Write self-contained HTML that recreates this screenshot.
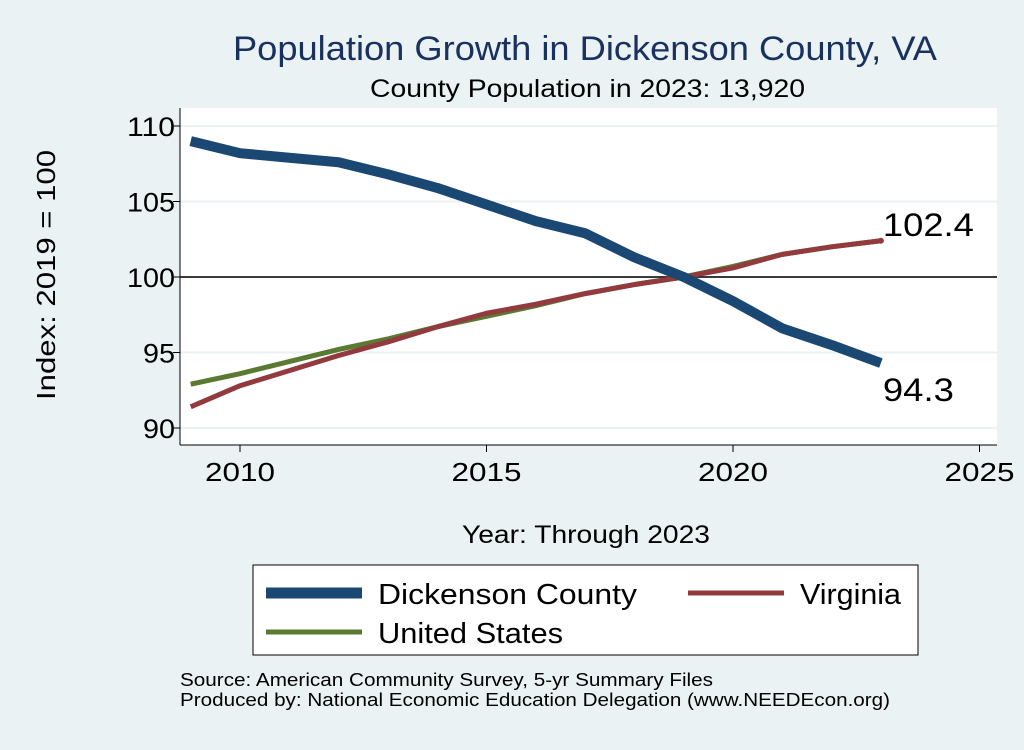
<!DOCTYPE html>
<html><head><meta charset="utf-8"><style>
body{margin:0;background:#eaf2f3;font-family:"Liberation Sans",sans-serif}
svg text{font-family:"Liberation Sans",sans-serif}
</style></head><body>
<svg width="1024" height="745" viewBox="0 0 1024 745">
<rect width="1024" height="745" fill="#eaf2f3"/>
<text x="233" y="60" font-size="34" fill="#1a3160" textLength="704" lengthAdjust="spacingAndGlyphs">Population Growth in Dickenson County, VA</text>
<text x="370" y="97" font-size="25" fill="#000" textLength="435" lengthAdjust="spacingAndGlyphs">County Population in 2023: 13,920</text>
<rect x="180" y="108" width="817" height="337" fill="#fff"/>
<g id="grid"></g><g id="axes"></g><g id="series"></g>
<text x="55" y="275" font-size="26" text-anchor="middle" textLength="250" lengthAdjust="spacingAndGlyphs" transform="rotate(-90 55 275)">Index: 2019 = 100</text>
<text x="462" y="543" font-size="25" textLength="248" lengthAdjust="spacingAndGlyphs">Year: Through 2023</text>
<g>
<rect x="253" y="565" width="665" height="90" fill="#fff" stroke="#000" stroke-width="1"/>
<line x1="266" y1="593" x2="362" y2="593" stroke="#1a4872" stroke-width="11"/>
<text x="378" y="604" font-size="29" textLength="259" lengthAdjust="spacingAndGlyphs">Dickenson  County</text>
<line x1="688" y1="593" x2="784" y2="593" stroke="#933a3f" stroke-width="5"/>
<text x="800" y="604" font-size="29" textLength="101" lengthAdjust="spacingAndGlyphs">Virginia</text>
<line x1="266" y1="632" x2="362" y2="632" stroke="#597a30" stroke-width="5"/>
<text x="378" y="643" font-size="29" textLength="185" lengthAdjust="spacingAndGlyphs">United States</text>
</g>
<text x="180" y="686" font-size="18" textLength="533" lengthAdjust="spacingAndGlyphs">Source: American Community Survey, 5-yr Summary Files</text>
<text x="180" y="706" font-size="18" textLength="710" lengthAdjust="spacingAndGlyphs">Produced by: National Economic Education Delegation (www.NEEDEcon.org)</text>
</svg>
<script>
const years=[2009,2010,2011,2012,2013,2014,2015,2016,2017,2018,2019,2020,2021,2022,2023];
const dickenson=[109.0,108.2,107.9,107.6,106.8,105.9,104.8,103.7,102.9,101.3,100,98.4,96.6,95.5,94.3];
const virginia=[91.4,92.8,93.8,94.8,95.7,96.7,97.6,98.2,98.9,99.5,100,100.6,101.5,102.0,102.4];
const unitedStates=[92.9,93.6,94.4,95.2,95.9,96.7,97.4,98.1,98.9,99.5,100,100.7,101.5,102.0,102.4];
const xTicks=[2010,2015,2020,2025];
const yTicks=[90,95,100,105,110];
const NS='http://www.w3.org/2000/svg';
const x=v=>240+(v-2010)*49.3;
const y=v=>277-(v-100)*15.1;
function mk(tag,attrs,parent,txt){const e=document.createElementNS(NS,tag);for(const k in attrs)e.setAttribute(k,attrs[k]);if(txt!==undefined)e.textContent=txt;parent.appendChild(e);return e;}
const grid=document.getElementById('grid'),axes=document.getElementById('axes'),ser=document.getElementById('series');
yTicks.forEach(t=>{
 const g=mk('line',{x1:180,x2:997,y1:y(t),y2:y(t),stroke:'#eaf2f3','stroke-width':2},grid);
 
 
 const tk=mk('line',{x1:173,x2:180,y1:y(t),y2:y(t),stroke:'#000'},axes);
 
 
 const s=String(t);
 const l=mk('text',{x:175,y:y(t)+10,'font-size':27,'text-anchor':'end',textLength:s.length*16,lengthAdjust:'spacingAndGlyphs'},axes,s);
 
 
});
const ref=mk('line',{x1:180,x2:997,y1:y(100),y2:y(100),stroke:'#000','stroke-width':1.5},grid);


const ya=mk('line',{x1:180,x2:180,y1:108,y2:445,stroke:'#000'},axes);


const xa=mk('line',{x1:180,x2:997,y1:445,y2:445,stroke:'#000'},axes);


xTicks.forEach(t=>{
 const tk=mk('line',{x1:x(t),x2:x(t),y1:445,y2:452,stroke:'#000'},axes);
 
 
 const l=mk('text',{x:x(t)-35,y:481,'font-size':26,textLength:70,lengthAdjust:'spacingAndGlyphs'},axes,t);
 
 
});
function line(data,color,w,name){
 const d=data.map((v,i)=>(i?'L':'M')+x(years[i])+','+y(v)).join(' ');
 const p=mk('path',{d:d,fill:'none',stroke:color,'stroke-width':w,'stroke-linejoin':'round'},ser);
 
 
}
line(unitedStates,'#597a30',5,'line-united-states');
line(virginia,'#933a3f',5,'line-virginia');
line(dickenson,'#1a4872',10,'line-dickenson');
const li=years.length-1;
const dot=mk('circle',{cx:x(years[li]),cy:y(virginia[li]),r:3,fill:'#933a3f'},ser);


const l1=mk('text',{x:x(years[li])+2,y:y(virginia[li])-5,'font-size':32,textLength:91,lengthAdjust:'spacingAndGlyphs'},ser,virginia[li].toFixed(1));


const l2=mk('text',{x:x(years[li])+2,y:y(dickenson[li])+38,'font-size':32,textLength:71,lengthAdjust:'spacingAndGlyphs'},ser,dickenson[li].toFixed(1));


</script>
</body></html>
